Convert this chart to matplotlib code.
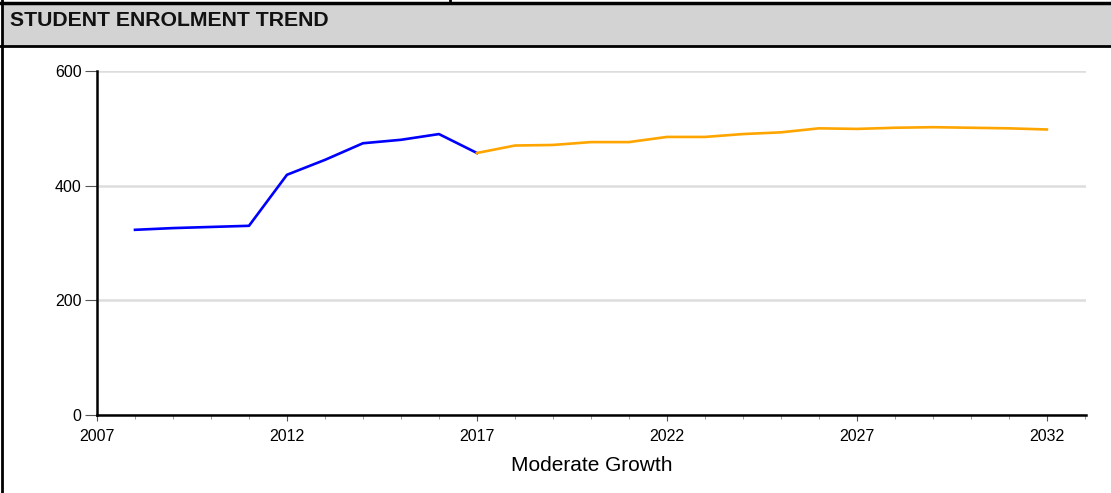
import matplotlib
matplotlib.use("Agg")
import matplotlib.pyplot as plt
from matplotlib.patches import Rectangle
from matplotlib.lines import Line2D
from matplotlib.ticker import MultipleLocator

# data
actual_years = [2008, 2009, 2010, 2011, 2012, 2013, 2014, 2015, 2016, 2017]
actual_enrol = [323, 326, 328, 330, 419, 445, 474, 480, 490, 457]
proj_years = [2017, 2018, 2019, 2020, 2021, 2022, 2023, 2024, 2025,
              2026, 2027, 2028, 2029, 2030, 2031, 2032]
proj_enrol = [457, 470, 471, 476, 476, 485, 485, 490, 493,
              500, 499, 501, 502, 501, 500, 498]
year_ticks = [2007, 2012, 2017, 2022, 2027, 2032]
enrol_ticks = [0, 200, 400, 600]

TITLE = "STUDENT ENROLMENT TREND"
XLABEL = "Moderate Growth"

W, H = 1111, 493
plt.rcParams["font.family"] = ["Liberation Sans", "DejaVu Sans"]

fig = plt.figure(figsize=(W / 100, H / 100), dpi=100)


def fx(px):
    return px / W


def fy(py):
    return 1 - py / H


# header band + frame lines
fig.patches.append(Rectangle((fx(2), fy(46)), 1, fy(4) - fy(46),
                             transform=fig.transFigure, facecolor="#d3d3d3",
                             edgecolor="none", zorder=0))
for (x0, y0, x1, y1, lw) in [(0, 3, W, 3, 2.5), (0, 45.5, W, 45.5, 2),
                             (1.5, 0, 1.5, H, 2), (450, 0, 450, 3, 2)]:
    fig.add_artist(Line2D([fx(x0), fx(x1)], [fy(y0), fy(y1)],
                          transform=fig.transFigure, color="black", lw=lw))
fig.text(fx(10), fy(21), TITLE, fontsize=15.3, fontweight="bold",
         ha="left", va="center", color="#111111")

ax = fig.add_axes([fx(97), fy(415), fx(1086) - fx(97), fy(71) - fy(415)])
ax.plot(actual_years, actual_enrol, color="#0000ff", lw=1.9, zorder=3)
ax.plot(proj_years, proj_enrol, color="#ffa500", lw=1.9, zorder=3)

ax.set_xlim(2007, 2033.03)
ax.set_ylim(0, 600)
ax.set_xticks(year_ticks)
ax.xaxis.set_minor_locator(MultipleLocator(1))
ax.set_yticks(enrol_ticks)
ax.grid(axis="y", color="#dddddd", lw=1.8, zorder=0)
ax.set_axisbelow(True)

for s in ["top", "right"]:
    ax.spines[s].set_visible(False)
for s in ["left", "bottom"]:
    ax.spines[s].set_linewidth(1.8)
    ax.spines[s].set_color("black")

ax.tick_params(axis="y", length=9, width=0.8, color="#555555",
               labelsize=11.5, pad=2)
ax.tick_params(axis="x", which="major", length=4, width=0.8,
               color="#555555", labelsize=11.5, pad=6)
ax.tick_params(axis="x", which="minor", length=3, width=0.6,
               color="#888888")
ax.set_xlabel(XLABEL, fontsize=15, labelpad=9)

fig.savefig("out.png", dpi=100)
